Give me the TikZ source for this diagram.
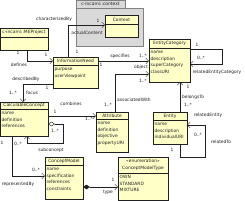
\documentclass[tikz,border=0pt]{standalone}
\usepackage{fontspec}
\setmainfont{DejaVu Sans}
\usetikzlibrary{arrows.meta}
\definecolor{clsfill}{HTML}{FFFFC8}
\definecolor{pkgfill}{HTML}{D9D9D9}
\definecolor{pkgline}{HTML}{808080}
\definecolor{ink}{HTML}{202020}
\tikzset{
  txt/.style={font=\fontsize{4.4}{6.6}\selectfont, inner sep=0pt, text=ink},
  clsbox/.style={draw=ink, fill=clsfill, line width=0.5pt, inner sep=0pt, outer sep=0pt},
  pkgbox/.style={draw=pkgline, fill=pkgfill, line width=0.5pt, inner sep=0pt, outer sep=0pt},
  sep/.style={draw=ink, line width=0.5pt},
  conn/.style={draw=ink, line width=0.45pt},
  arr/.style={conn, -{Straight Barb[length=2.8pt,width=5.5pt]}},
  agg/.style={conn, {Diamond[open,length=7pt,width=4.5pt]}-{Straight Barb[length=2.8pt,width=5.5pt]}},
  comp/.style={conn, {Diamond[length=7pt,width=4.5pt]}-{Straight Barb[length=2.8pt,width=5.5pt]}},
}
\newcommand\umlcls[8]{%
  \node[clsbox, anchor=north west, minimum width=#4pt, minimum height=#5pt] (#1) at (#2,#3) {};
  \draw[sep] ([yshift=-#6pt]#1.north west) -- ([yshift=-#6pt]#1.north east);
  \node[txt, align=center] (#1-t) at ([yshift=-#6pt/2]#1.north) {#7};
  \node[txt, align=left, anchor=north west] (#1-a) at ([xshift=1.5pt,yshift=-#6pt-1.8pt]#1.north west) {\rule{0pt}{3.6pt}#8};
}
\begin{document}
\begin{tikzpicture}[x=1pt,y=-1pt]
\useasboundingbox[fill=white] (0,0) rectangle (245,200);
% package
\node[pkgbox, anchor=north west, minimum width=67pt, minimum height=38pt] (pkg) at (76,8) {};
\node[pkgbox, anchor=north west, minimum width=49pt, minimum height=8pt] (pkgtab) at (76,0) {};
\node[txt] (pkgname) at (pkgtab.center) {c-incami::context};
% classes
\umlcls{CTX}{105}{15}{33}{22}{9}{Context}{}
\umlcls{MEP}{0}{28}{48}{22}{9}{c-incami::MEProject}{}
\umlcls{IN}{53}{57}{45}{31}{8}{InformationNeed}{purpose\\userViewpoint}
\umlcls{EC}{149}{39}{41}{43}{9}{EntityCategory}{name\\description\\superCategory\\classURI}
\umlcls{CC}{0}{102}{48}{34}{7}{CalculableConcept}{name\\definition\\references}
\umlcls{ATT}{96}{112}{32}{40}{7}{Attribute}{name\\definition\\objective\\propertyURI}
\umlcls{ENT}{153}{112}{34}{32}{8}{Entity}{name\\description\\individualURI}
\umlcls{CM}{45}{157}{38}{42}{8}{ConceptModel}{name\\specification\\references\\constraints}
\umlcls{CMT}{118}{157}{50}{43}{16}{«enumeration»\\ConceptModelType}{OWN\\STANDARD\\MIXTURE}
% connectors
\draw[arr] ([xshift=15pt]IN.north west) |- ([yshift=-10pt]CTX.north west);
\draw[arr] ([xshift=27pt]MEP.south west) |- ([yshift=-4pt]IN.north west);
\draw[arr] ([yshift=-4pt]IN.north east) -- ([yshift=-22pt]EC.north west);
\draw[arr] ([xshift=19pt]ATT.north west) |- ([yshift=-35pt]EC.north west);
\draw[arr] ([xshift=27pt]ENT.north west) -- ([xshift=31pt]EC.south west);
\draw[arr] ([yshift=-10pt]EC.north east) -- ++(32,0) -- ++(0,15) -- ([yshift=-25pt]EC.north east);
\draw[arr] ([xshift=27pt]ENT.south west) -- ++(0,13) -- ++(25,0) -- ++(0,-32) -- ([yshift=-13pt]ENT.north east);
\draw[arr] ([yshift=4pt]IN.south west) -| ([xshift=23pt]CC.north west);
\draw[arr] ([yshift=-14pt]CC.north east) -- ([yshift=-4pt]ATT.north west);
\draw[agg] ([yshift=-22pt]CC.north east) -- ++(15,0) -- ++(0,19) -| ([xshift=27pt]CC.south west);
\draw[arr] ([xshift=12pt]CC.south west) |- ([yshift=-19pt]CM.north west);
\draw[comp] ([yshift=-30pt]CM.north east) -- ([yshift=-30pt]CMT.north west);
% labels
\node[txt] (l-char) at (54,19) {characterizedBy};
\node[txt] (l-char1) at (98,21) {1};
\node[txt] (l-actual) at (87,33) {actualContent};
\node[txt] (l-char2) at (77,52) {1};
\node[txt] (l-def1) at (18,53) {1};
\node[txt] (l-def2) at (46,55) {1};
\node[txt] (l-def) at (19,65) {defines};
\node[txt] (l-spec) at (120,56) {specifies};
\node[txt] (l-spec1) at (101,65) {1};
\node[txt] (l-spec2) at (143,56) {1..*};
\node[txt] (l-obj) at (141,67) {object};
\node[txt] (l-assoc) at (134,100) {associatedWith};
\node[txt] (l-assoc1) at (108,105) {1..*};
\node[txt] (l-assoc2) at (143,81) {1..*};
\node[txt] (l-ecl1) at (197,45) {1};
\node[txt] (l-ecl2) at (201,58) {0..*};
\node[txt] (l-rec) at (217,72) {relatedEntityCategory};
\node[txt] (l-bel1) at (188,87) {1};
\node[txt] (l-bel) at (193,97) {belongsTo};
\node[txt] (l-bel2) at (188,105) {1..*};
\node[txt] (l-re) at (208,115) {relatedEntity};
\node[txt] (l-rt1) at (198,135) {0..*};
\node[txt] (l-rt) at (221,142) {relatedTo};
\node[txt] (l-rt2) at (172,150) {1};
\node[txt] (l-desc) at (26,79) {describedBy};
\node[txt] (l-desc1) at (47,88) {1};
\node[txt] (l-desc2) at (13,93) {1..*};
\node[txt] (l-focus) at (32,93) {focus};
\node[txt] (l-comb) at (71,104) {combines};
\node[txt] (l-comb1) at (55,112) {1};
\node[txt] (l-comb2) at (89,119) {1..*};
\node[txt] (l-sub1) at (55,131) {1..*};
\node[txt] (l-sub) at (51,150) {subconcept};
\node[txt] (l-rep1) at (2,143) {1};
\node[txt] (l-rep2) at (18,144) {0..*};
\node[txt] (l-rep3) at (36,170) {0..*};
\node[txt] (l-rep) at (18,184) {representedBy};
\node[txt] (l-type1) at (113,180) {1};
\node[txt] (l-type) at (108,192) {type};
\end{tikzpicture}
\end{document}
